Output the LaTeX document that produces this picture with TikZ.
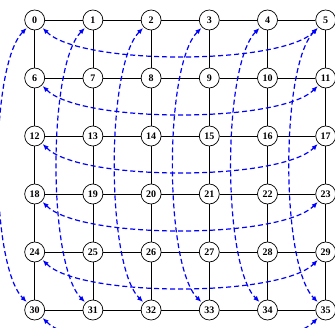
\documentclass[tikz,border=0pt]{standalone}
\usepackage{fontspec}
\setmainfont{Liberation Serif}
\usetikzlibrary{arrows.meta}
\tikzset{
  vtx/.style={draw, circle, line width=0.7pt, minimum size=20pt, inner sep=0pt, fill=white, font=\fontsize{10}{10}\selectfont\bfseries},
  gridline/.style={draw, line width=0.7pt, black},
  wrap/.style={draw=blue, line width=1.2pt, dash pattern=on 5pt off 3pt, {Latex[length=6pt,width=5pt]}-{Latex[length=6pt,width=5pt]}, shorten <=1pt, shorten >=1pt}
}
\begin{document}
\begin{tikzpicture}[x=1pt,y=1pt]
\useasboundingbox (0,0) rectangle (335,327);
\clip (0,0) rectangle (335,327);
\foreach \j in {0,...,5}{
  \foreach \i in {0,...,5}{
    \pgfmathtruncatemacro{\k}{6*\j+\i}
    \node[vtx] (n\k) at ({34.7+58.2*\i},{307-58*\j}) {\k};
  }
}
\begin{scope}[on background layer/.try]
\end{scope}
\foreach \j in {0,...,5}{
  \foreach \i in {0,...,4}{
    \pgfmathtruncatemacro{\a}{6*\j+\i}
    \pgfmathtruncatemacro{\b}{6*\j+\i+1}
    \draw[gridline] (n\a) -- (n\b);
  }
}
\foreach \j in {0,...,4}{
  \foreach \i in {0,...,5}{
    \pgfmathtruncatemacro{\a}{6*\j+\i}
    \pgfmathtruncatemacro{\b}{6*\j+\i+6}
    \draw[gridline] (n\a) -- (n\b);
  }
}
\foreach \j in {0,...,5}{
  \pgfmathtruncatemacro{\a}{6*\j}
  \pgfmathtruncatemacro{\b}{6*\j+5}
  \draw[wrap] (n\a) to[bend right=45, looseness=0.5] (n\b);
}
\foreach \i in {0,...,5}{
  \pgfmathtruncatemacro{\b}{30+\i}
  \draw[wrap] (n\i) to[bend right=45, looseness=0.5] (n\b);
}
\end{tikzpicture}
\end{document}
